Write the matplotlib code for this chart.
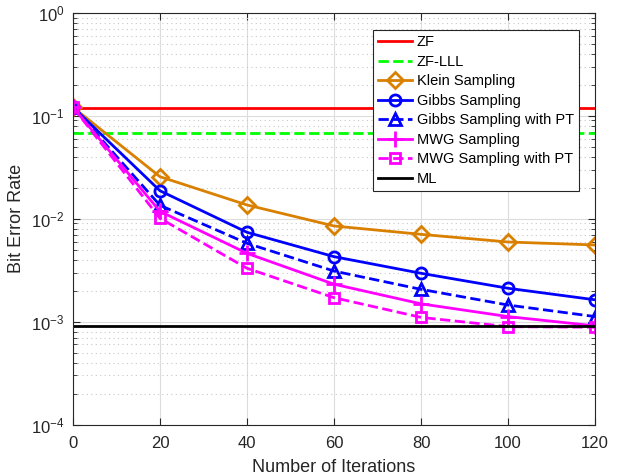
import numpy as np
import matplotlib
matplotlib.use('Agg')
import matplotlib.pyplot as plt
from matplotlib.ticker import LogLocator, NullFormatter, MultipleLocator

plt.rcParams['font.family'] = ['Liberation Sans', 'DejaVu Sans']
plt.rcParams['mathtext.fontset'] = 'custom'
plt.rcParams['mathtext.rm'] = 'Liberation Sans'
plt.rcParams['mathtext.default'] = 'regular'

iters = [0, 20, 40, 60, 80, 100, 120]
ber_zf = 0.119
ber_zf_lll = 0.0675
ber_ml = 9.1e-4
ber_klein = [0.121, 0.0256, 0.0136, 0.0085, 0.00705, 0.00594, 0.00556]
ber_gibbs = [0.121, 0.0187, 0.00738, 0.00428, 0.00295, 0.00211, 0.00163]
ber_gibbs_pt = [0.121, 0.0135, 0.00577, 0.0031, 0.00206, 0.00145, 0.00112]
ber_mwg = [0.121, 0.0118, 0.00461, 0.00231, 0.00149, 0.00112, 0.00091]
ber_mwg_pt = [0.121, 0.0101, 0.0033, 0.00171, 0.0011, 0.000894, 0.000883]

fig = plt.figure(figsize=(6.18, 4.76), dpi=100)
ax = fig.add_axes([0.118, 0.108, 0.845, 0.865])

lw = 2
ms = 8
ax.plot([0, 120], [ber_zf, ber_zf], '-', color='#FF0000', lw=lw, label='ZF')
ax.plot([0, 120], [ber_zf_lll, ber_zf_lll], '--', color='#00FF00', lw=lw, label='ZF-LLL')
ax.plot(iters, ber_klein, '-D', color='#D98000', lw=lw, ms=ms, mfc='none', mew=lw, label='Klein Sampling')
ax.plot(iters, ber_gibbs, '-o', color='#0000FF', lw=lw, ms=ms, mfc='none', mew=lw, label='Gibbs Sampling')
ax.plot(iters, ber_gibbs_pt, '--^', color='#0000FF', lw=lw, ms=ms + 1, mfc='none', mew=lw, label='Gibbs Sampling with PT')
ax.plot(iters, ber_mwg, '-+', color='#FF00FF', lw=lw, ms=ms + 3, mew=lw, label='MWG Sampling')
ax.plot(iters, ber_mwg_pt, '--s', color='#FF00FF', lw=lw, ms=ms - 1, mfc='none', mew=lw, label='MWG Sampling with PT')
ax.plot([0, 120], [ber_ml, ber_ml], '-', color='black', lw=lw, label='ML')

ax.set_yscale('log')
ax.set_xlim(0, 120)
ax.set_ylim(1e-4, 1e0)
ax.xaxis.set_major_locator(MultipleLocator(20))
ax.yaxis.set_major_locator(LogLocator(base=10, numticks=10))
ax.yaxis.set_minor_locator(LogLocator(base=10, subs=np.arange(2, 10), numticks=10))
ax.yaxis.set_minor_formatter(NullFormatter())

ax.grid(True, which='major', color='#DCDCDC', lw=0.8)
ax.grid(True, which='minor', axis='y', color='#C8C8C8', lw=0.8, ls=(0, (1, 3)))
ax.set_axisbelow(True)

ax.tick_params(which='both', direction='in', top=True, right=True, labelsize=12, colors='#262626')
ax.tick_params(which='major', length=5)
ax.tick_params(which='minor', length=3)
ax.tick_params(axis='x', pad=8)
ax.tick_params(axis='y', pad=6)
for s in ax.spines.values():
    s.set_color('#262626')
    s.set_linewidth(0.8)

ax.set_xlabel('Number of Iterations', fontsize=13, color='#262626', labelpad=6)
ax.set_ylabel('Bit Error Rate', fontsize=13, color='#262626', labelpad=4)

leg = ax.legend(loc='upper right', bbox_to_anchor=(0.969, 0.958), fontsize=10.5, handlelength=2.3,
                labelspacing=0.38, borderpad=0.35, handletextpad=0.35, fancybox=False, framealpha=1,
                borderaxespad=0)
leg.get_frame().set_edgecolor('#262626')
leg.get_frame().set_linewidth(0.8)

plt.savefig('out.png', dpi=100)
plt.close('all')
